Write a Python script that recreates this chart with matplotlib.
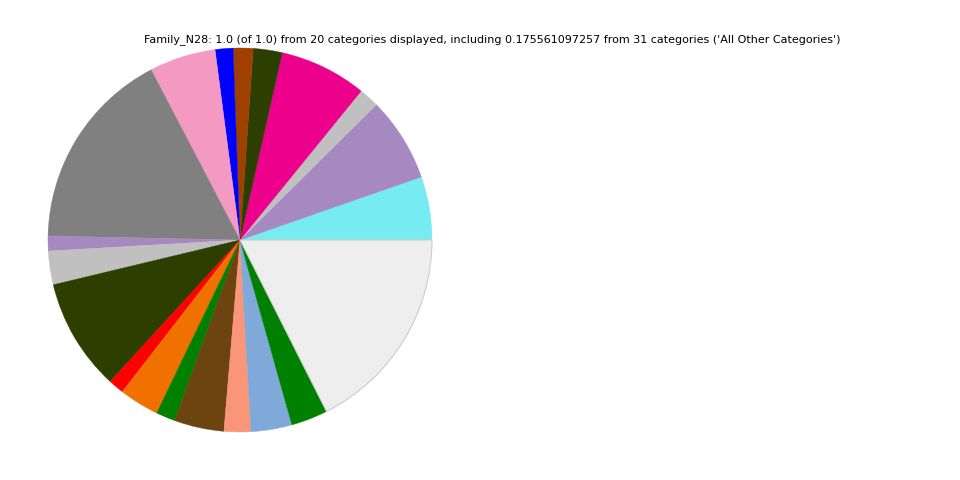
import matplotlib
matplotlib.use("Agg")
import matplotlib.pyplot as plt

categories = [f"Category {i+1}" for i in range(19)] + ["All Other Categories"]
values = [0.0533, 0.0711, 0.0169, 0.0733, 0.0244, 0.0167, 0.0150, 0.0558,
          0.1700, 0.0125, 0.0283, 0.0944, 0.0131, 0.0336, 0.0161, 0.0419,
          0.0225, 0.0344, 0.0308, 0.175561097257]
colors = ["#77EBF2", "#A589C0", "#C0C0C0", "#EC008C", "#2C3F00", "#A04000",
          "#0000FF", "#F49AC2", "#808080", "#A589C0", "#C0C0C0", "#2C3F00",
          "#FF0000", "#F07000", "#008000", "#6B4410", "#F99677", "#7FA9D8",
          "#008000", "#EEEEEE"]
title = "Family_N28: 1.0 (of 1.0) from 20 categories displayed, including 0.175561097257 from 31 categories ('All Other Categories')"

fig = plt.figure(figsize=(9.6, 4.8), dpi=100)
ax = fig.add_axes([48/960, 48/480, 384/960, 384/480])
wedges, _ = ax.pie(values, colors=colors, startangle=0, counterclock=True,
                   radius=1.0, normalize=True)
for w, c in zip(wedges, colors):
    if c == "#EEEEEE":
        w.set_edgecolor("#CCCCCC")
        w.set_linewidth(0.8)
    else:
        w.set_edgecolor(c)
        w.set_linewidth(0.3)
ax.set_xlim(-1, 1)
ax.set_ylim(-1, 1)
ax.set_aspect("equal")
ax.axis("off")
fig.text(492/960, 1 - 40/480, title, ha="center", va="center", fontsize=8)
fig.savefig("out.png", dpi=100)
